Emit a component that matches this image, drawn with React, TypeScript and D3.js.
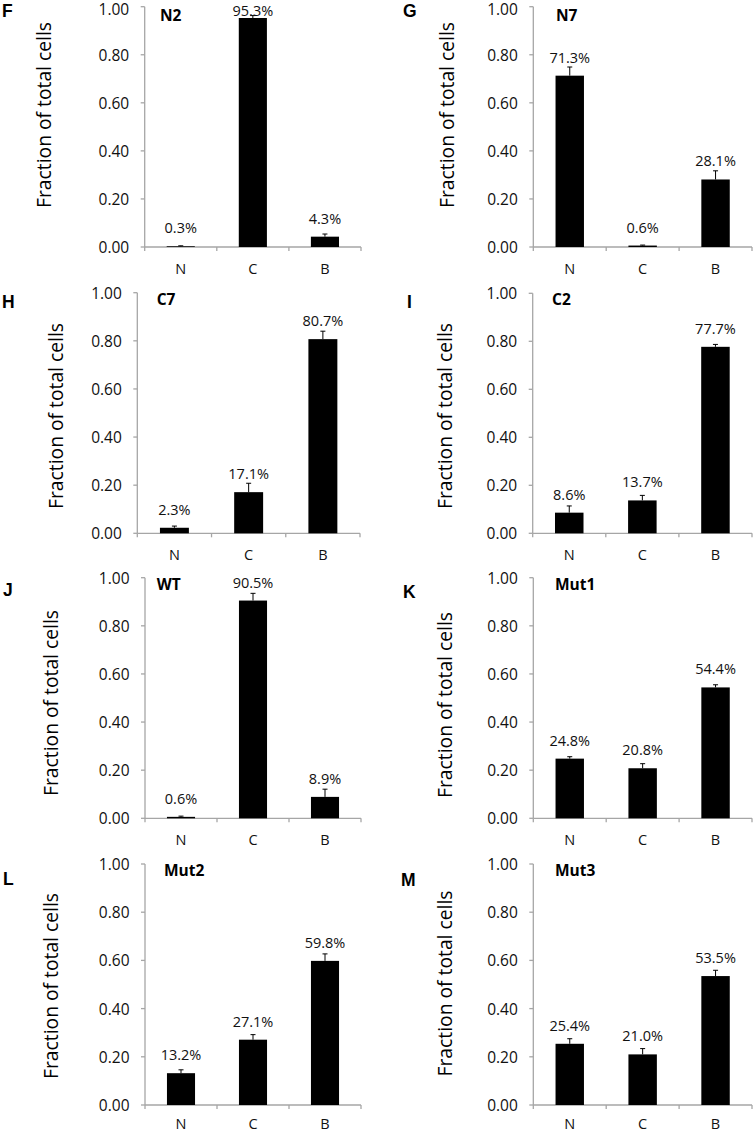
import React from "react";
import * as d3 from "d3";

const categories = ["N", "C", "B"];
const yTickValues = [0, 0.2, 0.4, 0.6, 0.8, 1.0];
const yAxisTitle = "Fraction of total cells";

const panelLetters = ["F", "G", "H", "I", "J", "K", "L", "M"];
const panelTitles = ["N2", "N7", "C7", "C2", "WT", "Mut1", "Mut2", "Mut3"];

const valuesN2 = [0.003, 0.953, 0.043];
const errorsN2 = [0.002, 0.01, 0.011];
const valuesN7 = [0.713, 0.006, 0.281];
const errorsN7 = [0.036, 0.002, 0.036];
const valuesC7 = [0.023, 0.171, 0.807];
const errorsC7 = [0.007, 0.037, 0.033];
const valuesC2 = [0.086, 0.137, 0.777];
const errorsC2 = [0.028, 0.021, 0.01];
const valuesWT = [0.006, 0.905, 0.089];
const errorsWT = [0.003, 0.03, 0.032];
const valuesMut1 = [0.248, 0.208, 0.544];
const errorsMut1 = [0.008, 0.019, 0.011];
const valuesMut2 = [0.132, 0.271, 0.598];
const errorsMut2 = [0.014, 0.021, 0.029];
const valuesMut3 = [0.254, 0.21, 0.535];
const errorsMut3 = [0.021, 0.024, 0.024];

const panelValues = [valuesN2, valuesN7, valuesC7, valuesC2, valuesWT, valuesMut1, valuesMut2, valuesMut3];
const panelErrors = [errorsN2, errorsN7, errorsC7, errorsC2, errorsWT, errorsMut1, errorsMut2, errorsMut3];

// layout (positions only)
const layouts = [
  { x0: 144.7, x1: 361, yTop: 6.7, yBot: 247, lx: 2, ly: 17, tx: 160, ty: 20.7, ax: 43, ay: 115 },
  { x0: 533.3, x1: 752, yTop: 6.7, yBot: 247, lx: 403, ly: 17, tx: 556, ty: 20.7, ax: 446, ay: 115 },
  { x0: 137.3, x1: 360, yTop: 292.7, yBot: 533.3, lx: 2, ly: 308, tx: 156.7, ty: 305, ax: 55, ay: 416 },
  { x0: 532.7, x1: 752, yTop: 293.3, yBot: 533.3, lx: 407, ly: 308, tx: 552, ty: 305, ax: 444, ay: 416 },
  { x0: 145, x1: 361, yTop: 577.7, yBot: 818.3, lx: 3, ly: 595.5, tx: 156.7, ty: 590, ax: 50, ay: 703 },
  { x0: 533.3, x1: 752, yTop: 577.7, yBot: 818.3, lx: 403, ly: 598, tx: 555, ty: 590, ax: 444, ay: 705 },
  { x0: 145, x1: 361, yTop: 864, yBot: 1105, lx: 3, ly: 885, tx: 164, ty: 876, ax: 50, ay: 986 },
  { x0: 533.3, x1: 752, yTop: 864, yBot: 1105, lx: 401, ly: 885.5, tx: 555, ty: 876, ax: 444, ay: 983.5 },
];

const AXIS_COLOR = "#a6a6a6";
const FONT = "'Open Sans', 'Noto Sans', sans-serif";
const fmtTick = d3.format(".2f");
const fmtPct = d3.format(".1%");

function Panel({ idx }: { idx: number }) {
  const L = layouts[idx];
  const values = panelValues[idx];
  const errors = panelErrors[idx];
  const x = d3.scaleBand<string>().domain(categories).range([L.x0, L.x1]).paddingInner(0).paddingOuter(0);
  const y = d3.scaleLinear().domain([0, 1]).range([L.yBot, L.yTop]);
  const bw = x.bandwidth() * 0.39;
  const boundaries = [...categories.map((c) => x(c) as number), L.x1];
  const catLabelY = Math.min(y(0) + 27, 1129);
  return (
    <g>
      <text x={L.lx} y={L.ly} fontFamily="'Liberation Sans', Arial, sans-serif" fontWeight="bold" fontSize={17.5} fill="#000">
        {panelLetters[idx]}
      </text>
      <text
        transform={`translate(${L.ax},${L.ay}) rotate(-90)`}
        textAnchor="middle"
        dominantBaseline="central"
        fontFamily={FONT}
        fontSize={19.3}
        fill="#000"
      >
        {yAxisTitle}
      </text>
      {/* y axis */}
      <line x1={L.x0} x2={L.x0} y1={y(1)} y2={y(0)} stroke={AXIS_COLOR} strokeWidth={1.3} />
      {yTickValues.map((t) => (
        <g key={t}>
          <line x1={L.x0 - 4} x2={L.x0} y1={y(t)} y2={y(t)} stroke={AXIS_COLOR} strokeWidth={1.3} />
          <text x={L.x0 - 15.5} y={Math.max(y(t), 8.5)} textAnchor="end" dominantBaseline="central" fontFamily={FONT} fontSize={15.5} fill="#111">
            {fmtTick(t)}
          </text>
        </g>
      ))}
      {/* x axis */}
      <line x1={L.x0} x2={L.x1} y1={y(0)} y2={y(0)} stroke={AXIS_COLOR} strokeWidth={1.3} />
      {boundaries.map((b, i) => (
        <line key={i} x1={b} x2={b} y1={y(0)} y2={y(0) + 4} stroke={AXIS_COLOR} strokeWidth={1.3} />
      ))}
      {categories.map((c) => (
        <text key={c} x={(x(c) as number) + x.bandwidth() / 2} y={catLabelY} textAnchor="middle" fontFamily={FONT} fontSize={14.5} fill="#111">
          {c}
        </text>
      ))}
      {/* bars */}
      {categories.map((c, i) => {
        const cx = (x(c) as number) + x.bandwidth() / 2;
        const v = values[i];
        const e = errors[i];
        const labelY = Math.max(y(v) - 13, L.yTop + 9.5);
        return (
          <g key={c}>
            <rect x={cx - bw / 2} y={y(v)} width={bw} height={y(0) - y(v)} fill="#000" />
            <line x1={cx} x2={cx} y1={y(v)} y2={y(v + e)} stroke="#000" strokeWidth={1} />
            <line x1={cx - 2.5} x2={cx + 2.5} y1={y(v + e)} y2={y(v + e)} stroke="#000" strokeWidth={1} />
            <text x={cx} y={labelY} textAnchor="middle" fontFamily={FONT} fontSize={14.5} fill="#111">
              {fmtPct(v)}
            </text>
          </g>
        );
      })}
      <text x={L.tx} y={L.ty} fontFamily={FONT} fontWeight="bold" fontSize={15.5} fill="#000">
        {panelTitles[idx]}
      </text>
    </g>
  );
}

export default function App() {
  return (
    <svg width={753} height={1133} style={{ position: "absolute", left: 0, top: 0, background: "#fff" }}>
      <rect x={0} y={0} width={753} height={1133} fill="#fff" />
      {layouts.map((_, i) => (
        <Panel key={i} idx={i} />
      ))}
    </svg>
  );
}
